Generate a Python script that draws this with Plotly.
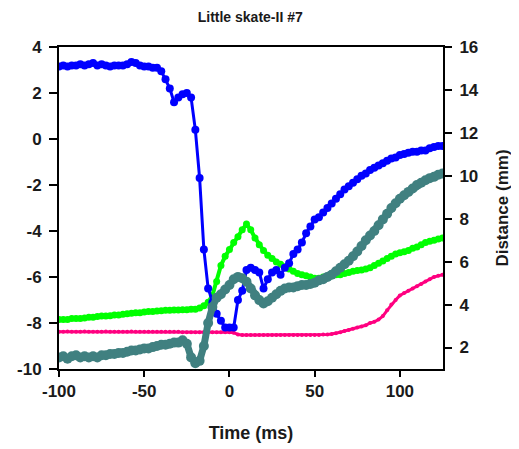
import plotly.graph_objects as go

# time axis (ms), sampled every 2.5 ms
time_ms = [-100 + 2.5 * i for i in range(91)]

# blue series (left axis)
blue = [3.15, 3.2, 3.15, 3.2, 3.2, 3.25, 3.2, 3.25, 3.3, 3.2,
        3.25, 3.2, 3.15, 3.2, 3.2, 3.2, 3.25, 3.35, 3.3, 3.2,
        3.15, 3.15, 3.1, 3.1, 2.95, 2.6, 2.2, 1.6, 1.8, 1.95,
        2.0, 1.8, 0.4, -1.7, -4.8, -6.5, -7.1, -7.6, -7.9, -8.2,
        -8.2, -8.2, -7.0, -6.6, -5.7, -5.6, -5.7, -5.8, -6.5, -6.1,
        -5.8, -5.7, -5.9, -5.6, -5.4, -5.0, -4.8, -4.5, -4.1, -3.8,
        -3.5, -3.4, -3.2, -3.0, -2.8, -2.6, -2.4, -2.2, -2.05, -1.9,
        -1.75, -1.6, -1.5, -1.35, -1.25, -1.15, -1.05, -0.95, -0.85, -0.8,
        -0.7, -0.65, -0.6, -0.55, -0.55, -0.5, -0.5, -0.4, -0.35, -0.3,
        -0.3]

# green series (left axis)
green = [-7.85, -7.85, -7.85, -7.8, -7.8, -7.8, -7.78, -7.75, -7.75, -7.72,
         -7.7, -7.7, -7.68, -7.65, -7.65, -7.62, -7.6, -7.58, -7.55, -7.55,
         -7.52, -7.5, -7.5, -7.48, -7.47, -7.45, -7.45, -7.44, -7.43, -7.42,
         -7.42, -7.4, -7.4, -7.35, -7.25, -7.1, -6.8, -6.2, -5.5, -5.1,
         -4.8, -4.5, -4.25, -3.95, -3.7, -3.95, -4.3, -4.6, -4.85, -5.05,
         -5.2, -5.35, -5.45, -5.55, -5.65, -5.75, -5.85, -5.9, -5.95, -6.0,
         -6.05, -6.05, -6.0, -6.0, -5.95, -5.9, -5.9, -5.85, -5.8, -5.75,
         -5.72, -5.7, -5.65, -5.6, -5.5, -5.4, -5.3, -5.2, -5.1, -5.0,
         -4.95, -4.9, -4.85, -4.75, -4.7, -4.6, -4.5, -4.45, -4.4, -4.35,
         -4.3]

# pink series (left axis)
pink = [-8.38, -8.38, -8.37, -8.38, -8.38, -8.38, -8.37, -8.38, -8.38, -8.38,
        -8.38, -8.37, -8.38, -8.38, -8.38, -8.38, -8.38, -8.37, -8.38, -8.38,
        -8.38, -8.38, -8.38, -8.38, -8.38, -8.38, -8.38, -8.38, -8.38, -8.4,
        -8.4, -8.4, -8.4, -8.4, -8.4, -8.4, -8.4, -8.4, -8.4, -8.4,
        -8.4, -8.42, -8.5, -8.52, -8.52, -8.52, -8.52, -8.52, -8.52, -8.52,
        -8.52, -8.52, -8.52, -8.52, -8.52, -8.52, -8.52, -8.52, -8.52, -8.52,
        -8.52, -8.52, -8.5, -8.5, -8.48, -8.45, -8.4, -8.35, -8.3, -8.25,
        -8.2, -8.15, -8.1, -8.0, -7.95, -7.85, -7.7, -7.45, -7.2, -7.0,
        -6.8, -6.7, -6.6, -6.5, -6.4, -6.3, -6.2, -6.1, -6.0, -5.95,
        -5.9]

# teal series (right axis, Distance in mm)
teal = [1.54, 1.59, 1.48, 1.59, 1.64, 1.54, 1.59, 1.54, 1.59, 1.54,
        1.64, 1.64, 1.70, 1.70, 1.75, 1.75, 1.80, 1.86, 1.86, 1.91,
        1.96, 1.96, 2.02, 2.07, 2.13, 2.13, 2.18, 2.23, 2.23, 2.34,
        2.18, 1.54, 1.27, 1.38, 2.07, 3.14, 3.89, 4.32, 4.48, 4.70,
        4.91, 5.18, 5.29, 5.23, 5.07, 4.75, 4.43, 4.21, 4.05, 4.16,
        4.32, 4.48, 4.64, 4.75, 4.80, 4.80, 4.86, 4.91, 4.91, 4.96,
        5.02, 5.13, 5.18, 5.29, 5.39, 5.55, 5.72, 5.88, 6.04, 6.25,
        6.47, 6.73, 7.00, 7.22, 7.43, 7.70, 7.97, 8.23, 8.50, 8.72,
        8.93, 9.09, 9.25, 9.41, 9.57, 9.68, 9.79, 9.89, 9.95, 10.05,
        10.11]

x_ticks = [-100, -50, 0, 50, 100]
x_tick_text = ["-100", "-50", "0", "50", "100"]
left_ticks = [-10, -8, -6, -4, -2, 0, 2, 4]
left_tick_text = ["-10", "-8", "-6", "-4", "-2", "0", "2", "4"]
right_ticks = [2, 4, 6, 8, 10, 12, 14, 16]

FONT = "Liberation Sans"
TXT = "#1a1a1a"

fig = go.Figure()
fig.add_trace(go.Scatter(x=time_ms, y=pink, mode="lines+markers",
                         line=dict(color="#FF0080", width=3),
                         marker=dict(color="#FF0080", size=4), yaxis="y"))
fig.add_trace(go.Scatter(x=time_ms, y=green, mode="lines+markers",
                         line=dict(color="#00FF00", width=4),
                         marker=dict(color="#00FF00", size=7), yaxis="y"))
fig.add_trace(go.Scatter(x=time_ms, y=teal, mode="lines+markers",
                         line=dict(color="#408080", width=7),
                         marker=dict(color="#408080", size=10), yaxis="y2"))
fig.add_trace(go.Scatter(x=time_ms, y=blue, mode="lines+markers",
                         line=dict(color="#0000FF", width=3),
                         marker=dict(color="#0000FF", size=8), yaxis="y"))

axis_common = dict(showgrid=False, zeroline=False, showline=True,
                   linecolor="black", linewidth=2, ticks="outside",
                   tickcolor="black", tickwidth=1.5, automargin=False,
                   tickfont=dict(family=FONT, size=17, color=TXT, weight="bold"))

# the page body has an 8px margin, so the figure is sized to fit the window
fig.update_layout(
    width=511, height=441,
    margin=dict(l=51, r=76, t=39, b=80),
    paper_bgcolor="white", plot_bgcolor="white",
    showlegend=False,
    title=dict(text="Little skate-II #7", x=0.474, xanchor="center",
               y=0.99, yanchor="top",
               font=dict(family=FONT, size=14, color=TXT, weight="bold")),
    xaxis=dict(range=[-100, 125.3], tickvals=x_ticks, ticktext=x_tick_text,
               ticklen=6, mirror=True,
               title=dict(text="Time (ms)", standoff=26,
                          font=dict(family=FONT, size=18, color=TXT, weight="bold")),
               **axis_common),
    yaxis=dict(range=[-10, 4], tickvals=left_ticks, ticktext=left_tick_text,
               ticklen=8, ticklabelstandoff=4, **axis_common),
    yaxis2=dict(range=[1, 16], tickvals=right_ticks, ticklen=7, overlaying="y",
                side="right", ticklabelstandoff=4,
                title=dict(text="Distance (mm)", standoff=18,
                           font=dict(family=FONT, size=17, color=TXT, weight="bold")),
                **axis_common),
)

fig.write_html("out.html")
